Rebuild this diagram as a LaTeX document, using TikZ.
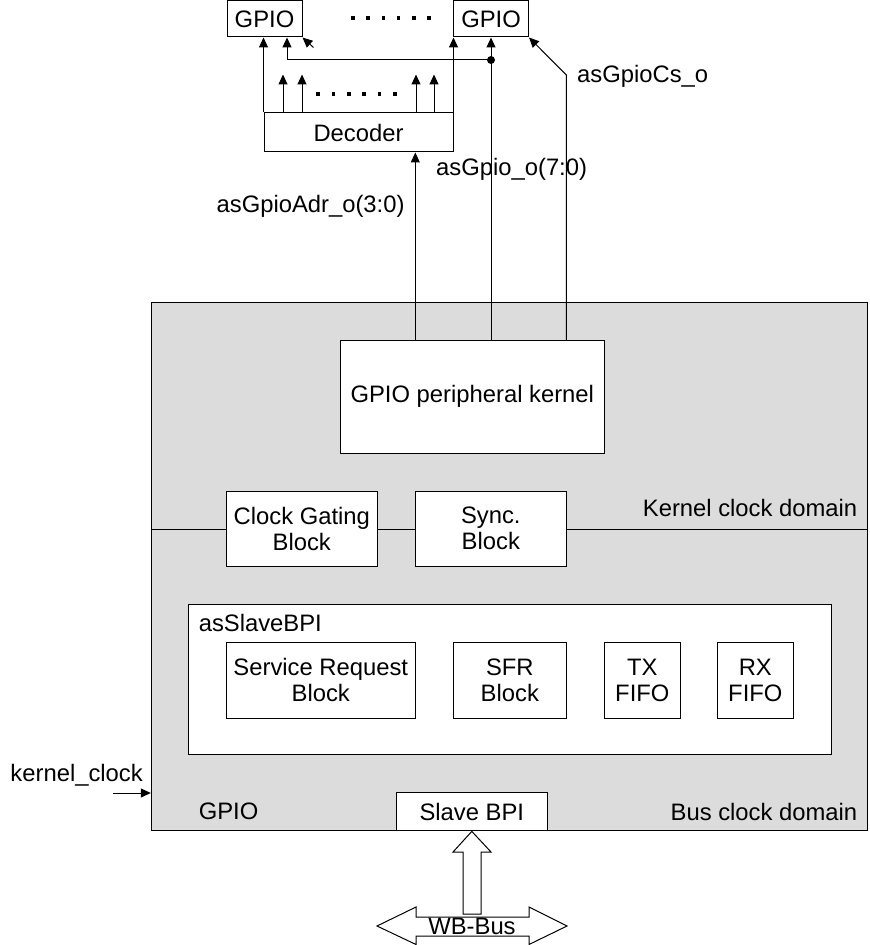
\documentclass[tikz,border=0pt]{standalone}
\usepackage{fontspec}
\setmainfont{Liberation Sans}
\usetikzlibrary{arrows.meta,calc}
\definecolor{bg}{HTML}{DCDCDC}
\begin{document}
\begin{tikzpicture}[x=0.5pt,y=-0.5pt,line width=0.5pt,
  every node/.style={font=\fontsize{11.9}{13}\selectfont},
  blk/.style={draw,fill=white,inner sep=0pt,align=center},
  lbl/.style={inner sep=0pt},
  arr/.style={-{Triangle[length=5pt,width=4.5pt]}},
  dot/.style={fill=black}]
\useasboundingbox (0,0) rectangle (869,945);
% outer gray block
\node[draw,fill=bg,inner sep=0pt,minimum width=358pt,minimum height=264.2pt] (outer) at (509.3,566.5) {};
\coordinate (dl) at (151.3,529);
\coordinate (dr) at (867.3,529);
\draw (dl) -- (dr);
% top boxes
\node[blk,minimum width=37.5pt,minimum height=18pt] (gpioL) at (264.5,19) {GPIO};
\node[blk,minimum width=37.5pt,minimum height=18pt] (gpioR) at (491,19) {GPIO};
\node[blk,minimum width=94.5pt,minimum height=19.5pt] (dec) at (358.5,132.5) {Decoder};
% inner blocks
\node[blk,minimum width=132pt,minimum height=56.5pt] (kern) at (472.3,396.8) {GPIO peripheral kernel};
\node[blk,minimum width=75.5pt,minimum height=37.5pt] (cg) at (301.8,528.8) {Clock Gating\\Block};
\node[blk,minimum width=75.5pt,minimum height=37.5pt] (sync) at (490.8,528.8) {Sync.\\Block};
\node[blk,minimum width=321.5pt,minimum height=75pt] (slv) at (509.8,679.8) {};
\node[blk,minimum width=94.5pt,minimum height=38pt] (srb) at (320.8,680.2) {Service Request\\Block};
\node[blk,minimum width=56.5pt,minimum height=38pt] (sfr) at (509.8,680.2) {SFR\\Block};
\node[blk,minimum width=38pt,minimum height=38pt] (tx) at (642.3,680.2) {TX\\FIFO};
\node[blk,minimum width=38pt,minimum height=38pt] (rx) at (755.3,680.2) {RX\\FIFO};
\node[blk,minimum width=75.5pt,minimum height=19pt] (sbpi) at (471.8,811.9) {Slave BPI};
% labels
\node[lbl,anchor=base east] (lk) at (857.7,516) {Kernel clock domain};
\node[lbl,anchor=base east] (lb) at (857.7,820) {Bus clock domain};
\node[lbl,anchor=base west] (ls) at (198.3,631.7) {asSlaveBPI};
\node[lbl,anchor=base west] (lg) at (198.3,819) {GPIO};
\node[lbl,anchor=base east] (la) at (405,213) {asGpioAdr\_o(3:0)};
\node[lbl,anchor=base west] (lo) at (435.7,176) {asGpio\_o(7:0)};
\node[lbl,anchor=base west] (lc) at (576.7,83) {asGpioCs\_o};
\node[lbl,anchor=base west] (lkc) at (10,781.7) {kernel\_clock};
% connectors
\draw[arr] (dec.north west) -- (dec.north west |- gpioL.south);
\draw[arr] (dec.north east) -- (dec.north east |- gpioR.south);
\coordinate (xa) at (415.3,0);
\draw[arr] (kern.north -| xa) -- (dec.south -| xa);
\draw[arr] (gpioR.south |- kern.north) -- (gpioR.south);
\coordinate (j) at (491,60);
\coordinate (xb) at (287,0);
\draw[arr] (j) -| (gpioL.south -| xb);
\fill (j) circle (4);
\coordinate (xc) at (566.3,0);
\coordinate (cb) at (566.3,75);
\draw[arr] (kern.north -| xc) -- (cb) -- (gpioR.south east);
\draw[arr] ($(gpioL.south east)+(11,10)$) -- (gpioL.south east);
\foreach \x in {283,302,416,434}{
  \coordinate (s\x) at (\x,0);
  \draw[arr] (dec.north -| s\x) -- ++(0,-38);
}
\foreach \i in {0,...,5}{
  \fill ({318+\i*15.4-1.8},{94-1.8}) rectangle ++(3.6,3.6);
  \fill ({353+\i*15.2-1.8},{18-1.8}) rectangle ++(3.6,3.6);
}
\coordinate (kc) at (113,793);
\draw[arr] (kc) -- (kc -| outer.west);
% hollow bus arrows
\draw[fill=white] (sbpi.south) -- (491,852) -- (481,852) -- (481,914) -- (463,914) -- (463,852) -- (453,852) -- cycle;
\draw[fill=white] (377,926) -- (416,907) -- (416,917) -- (529,917) -- (529,907) -- (567,926) -- (529,944.5) -- (529,936) -- (416,936) -- (416,944.5) -- cycle;
\node[lbl] (wb) at (472,926) {WB-Bus};
\end{tikzpicture}
\end{document}
